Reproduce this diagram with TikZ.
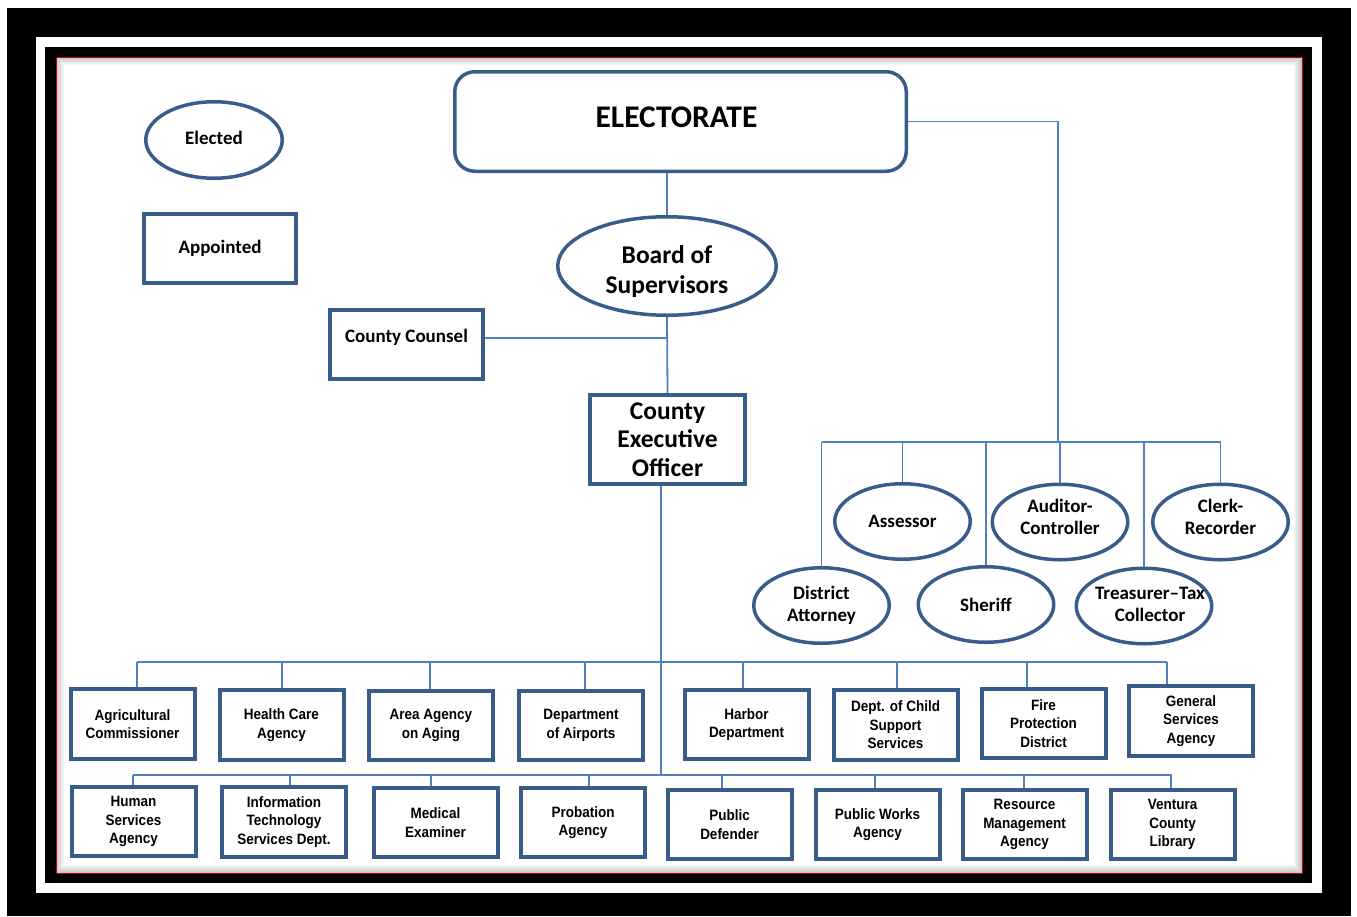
\documentclass[tikz,border=0pt]{standalone}
\usepackage{fontspec}
\setmainfont{Carlito}
\newfontfamily\boxfont[FakeStretch=0.9]{Liberation Sans}
\usetikzlibrary{shapes.geometric}
\definecolor{edgeblue}{RGB}{56,93,138}
\definecolor{linkblue}{RGB}{79,129,189}

\begin{document}
\begin{tikzpicture}[x=1pt,y=-1pt,
                elect node/.style={ellipse,draw=edgeblue,line width=3.5pt,minimum width=135.5pt,minimum height=75.5pt,
                                   inner sep=0pt,align=center,font={\fontsize{19}{22.5}\selectfont\bfseries}},
                appt node/.style={rectangle,draw=edgeblue,line width=4pt,inner sep=0pt,align=center,
                                  font={\fontsize{19}{22.5}\selectfont\bfseries}},
                dept node/.style={rectangle,draw=edgeblue,line width=4pt,minimum width=124pt,minimum height=69.5pt,
                                  inner sep=0pt,align=center,font={\boxfont\bfseries\fontsize{15}{18.5}\selectfont}},
                link/.style={draw=linkblue,line width=1.8pt}]
	\useasboundingbox (0,0) rectangle (1357,916);

	% frame
	\fill[white] (0,0) rectangle (1357,916);
	\fill[black] (7,8) rectangle (1351,916);
	\fill[white] (36,37) rectangle (1322,893);
	\fill[black] (45,47) rectangle (1312,883);
	\fill[white] (56,57) rectangle (1302,873);
	\foreach \i [evaluate=\i as \op using 0.22-0.026*\i] in {0,...,7}
		\draw[black,opacity=\op,line width=1pt] (56.5+\i,57.5+\i) rectangle (1301.5-\i,872.5-\i);
	\draw[red!75!black,line width=0.8pt] (56,57) rectangle (1302,873);

	% legend
	\node[elect node,minimum width=136.5pt,minimum height=76.5pt] (elected) at (214,140)
	      {\raisebox{2.5pt}[\height][\depth]{Elected}};
	\node[appt node,minimum width=152pt,minimum height=69pt] (appointed) at (220,248) {Appointed};

	% top of the chart
	\node[appt node,rounded corners=20pt,line width=3.5pt,minimum width=451.5pt,minimum height=99.5pt,
	      font={\fontsize{31.5}{36}\selectfont\bfseries}] (electorate) at (680.5,121.5)
	      {\raisebox{4.5pt}[\height][\depth]{\hspace*{-8pt}ELECTORATE}};
	\node[elect node,minimum width=218.5pt,minimum height=98.5pt,
	      font={\fontsize{25.5}{30}\selectfont\bfseries}] (board) at (667,266)
	      {\raisebox{-6.5pt}[\height][\depth]{\begin{tabular}{@{}c@{}}Board of\\Supervisors\end{tabular}}};
	\node[appt node,minimum width=153pt,minimum height=69pt] (counsel) at (406.5,344.5)
	      {\raisebox{7pt}[\height][\depth]{County Counsel}};
	\node[appt node,minimum width=155pt,minimum height=89pt,
	      font={\fontsize{25.5}{28.5}\selectfont\bfseries}] (ceo) at (667.5,439.5) {County\\Executive\\Officer};

	% elected officials
	\node[elect node] (assessor) at (902.5,521.5) {Assessor};
	\node[elect node] (auditor) at (1060,522) {\raisebox{3pt}[\height][\depth]{\begin{tabular}{@{}c@{}}Auditor-\\Controller\end{tabular}}};
	\node[elect node] (clerk) at (1220.5,522) {\raisebox{3pt}[\height][\depth]{\begin{tabular}{@{}c@{}}Clerk-\\Recorder\end{tabular}}};
	\node[elect node] (da) at (821.5,605.5) {District\\Attorney};
	\node[elect node] (sheriff) at (986,604.5) {Sheriff};
	\node[elect node] (treasurer) at (1144,606)
	      {\makebox[90pt]{\hspace*{12pt}\begin{tabular}{@{}c@{}}Treasurer--Tax\\Collector\end{tabular}}};

	% agencies, first row
	\node[dept node] (agri) at (132.5,724) {Agricultural\\Commissioner};
	\node[dept node] (health) at (281.5,725) {Health Care\\Agency};
	\node[dept node] (aging) at (431,725.5) {Area Agency\\on Aging};
	\node[dept node] (airports) at (581,725.5) {Department\\of Airports};
	\node[dept node] (harbor) at (746.5,724.5) {Harbor\\Department};
	\node[dept node] (childsup) at (895.5,725) {Dept. of Child\\Support\\Services};
	\node[dept node] (fire) at (1043.5,723.5) {Fire\\Protection\\District};
	\node[dept node] (gensvc) at (1191,721) {General\\Services\\Agency};

	% agencies, second row
	\node[dept node] (humsvc) at (133.5,821.5) {Human\\Services\\Agency};
	\node[dept node] (infotech) at (284,822) {Information\\Technology\\Services Dept.};
	\node[dept node] (medexam) at (435.5,822.5) {Medical\\Examiner};
	\node[dept node] (probation) at (583,822.5) {Probation\\Agency};
	\node[dept node] (pubdef) at (729.5,824.5) {Public\\Defender};
	\node[dept node] (pubworks) at (877.5,824.5) {Public Works\\Agency};
	\node[dept node] (resmgmt) at (1024.5,824.5) {Resource\\Management\\Agency};
	\node[dept node] (library) at (1172.5,824.5) {Ventura\\County\\Library};

	% connectors
	\coordinate (cc) at ([yshift=6.5pt]counsel.east);
	\coordinate (rbus) at (1058,442);
	\coordinate (spine) at (661,775);
	\coordinate (bus1w) at (137,662);
	\coordinate (bus1e) at (1167,662);
	\coordinate (bus2w) at (133,775);
	\coordinate (bus2e) at (1172,775);

	\draw[link] (electorate.south -| board.north) -- (board.north);
	\draw[link] (board.south) -- (ceo.north);
	\draw[link] (cc) -- (cc -| board.south);
	\draw[link] (electorate.east) -- (electorate.east -| rbus) -- (rbus);
	\draw[link] (da.north |- rbus) -- (clerk.north |- rbus);
	\foreach \n in {da,assessor,sheriff,auditor,treasurer,clerk}
		\draw[link] (\n.north |- rbus) -- (\n.north);

	\draw[link] (ceo.south -| spine) -- (spine);
	\draw[link] (bus1w) -- (bus1e);
	\draw[link] (bus2w) -- (bus2e);
	\foreach \n/\x in {agri/137,health/282,aging/430,airports/585,harbor/743,childsup/897,fire/1027,gensvc/1167}
		\draw[link] (\x,0 |- bus1w) -- (\n.north -| \x,0);
	\foreach \n/\x in {humsvc/133,infotech/290,medexam/431,probation/589,pubdef/722,pubworks/875,resmgmt/1024,library/1171}
		\draw[link] (\x,0 |- bus2w) -- (\n.north -| \x,0);

\end{tikzpicture}
\end{document}
